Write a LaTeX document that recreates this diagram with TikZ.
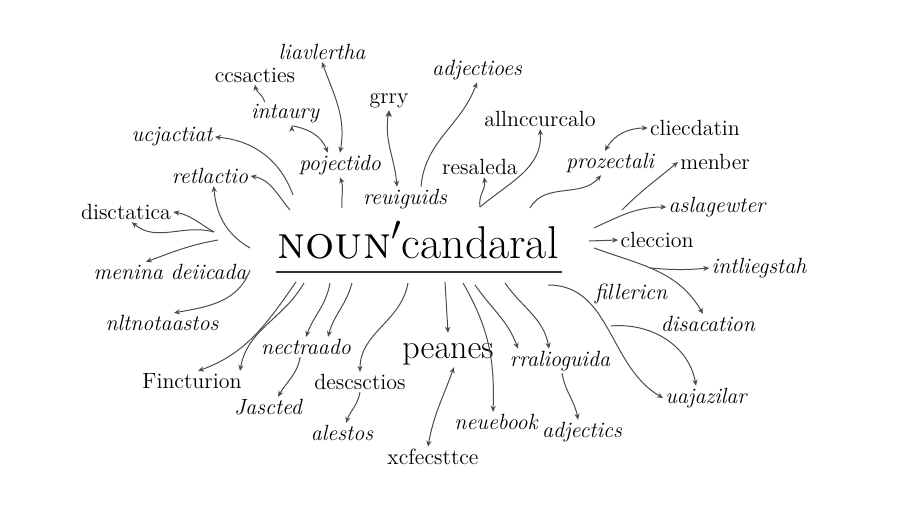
\documentclass[tikz,border=0pt]{standalone}
\usepackage{tikz}
\usetikzlibrary{arrows.meta}

\tikzset{
  lb/.style={font=\fontsize{11}{13}\selectfont, inner sep=1pt},
  il/.style={font=\fontsize{11}{13}\selectfont\itshape, inner sep=1pt},
  hd/.style={font=\fontsize{23}{28}\selectfont, inner sep=1pt},
  bg/.style={font=\fontsize{17}{20}\selectfont, inner sep=1pt},
  arr/.style={-{Stealth[length=3pt,width=2.6pt]}, draw=black!70, line width=0.5pt},
  darr/.style={{Stealth[length=3pt,width=2.6pt]}-{Stealth[length=3pt,width=2.6pt]}, draw=black!70, line width=0.5pt}
}

\begin{document}
\begin{tikzpicture}[x=0.5pt,y=0.5pt]
\useasboundingbox (0,0) rectangle (900,-506);

\node[hd] (title) at (418,-240) {\textsc{noun}$'$candaral};
\coordinate (ul-l) at (276,-272);
\coordinate (ul-r) at (562,-272);
\draw[line width=1pt, black!80] (ul-l) -- (ul-r);
\node[bg] (peanes) at (448,-354) {peanes};

\node[il] (liavlertha) at (322,-52) {liavlertha};
\node[lb] (ccsacties) at (255,-75) {ccsacties};
\node[il] (intaury) at (285,-114) {intaury};
\node[lb] (grry) at (389,-101) {grry};
\node[il] (adjectioes) at (477,-70) {adjectioes};
\node[lb] (allnccurcalo) at (540,-119) {allnccurcalo};
\node[il] (pojectido) at (340,-165) {pojectido};
\node[il] (reuiguids) at (405,-199) {reuiguids};
\node[lb] (resaleda) at (480,-167) {resaleda};
\node[il] (prozectali) at (610,-163) {prozectali};
\node[lb] (cliecdatin) at (695,-128) {cliecdatin};
\node[lb] (menber) at (715,-162) {menber};
\node[il] (aslagewter) at (717,-207) {aslagewter};
\node[lb] (cleccion) at (657,-240) {cleccion};
\node[il] (intliegstah) at (759,-268) {intliegstah};
\node[il] (fillericn) at (631,-294) {fillericn};
\node[il] (disacation) at (708,-324) {disacation};
\node[il] (uajazilar) at (706,-398) {uajazilar};
\node[il] (adjectics) at (582,-432) {adjectics};
\node[il] (rralioguida) at (560,-361) {rralioguida};
\node[il] (neuebook) at (496,-422) {neuebook};
\node[lb] (xcfecsttce) at (433,-457) {xcfecsttce};
\node[il] (alestos) at (342,-433) {alestos};
\node[lb] (descsctios) at (360,-382) {descsctios};
\node[il] (nectraado) at (306,-347) {nectraado};
\node[il] (jascted) at (268,-407) {Jascted};
\node[lb] (fincturion) at (192,-381) {Fincturion};
\node[il] (nltnotaastos) at (162,-323) {nltnotaastos};
\node[il] (menina) at (170,-272) {menina deiicada};
\node[lb] (disctatica) at (126,-212) {disctatica};
\node[il] (ucjactiat) at (172,-137) {ucjactiat};
\node[il] (retlactio) at (210,-176) {retlactio};

\coordinate (s-ucj) at (293,-195);
\coordinate (s-ret) at (290,-210);
\coordinate (s-ret2) at (250,-248);
\coordinate (s-dis) at (214,-232);
\coordinate (s-men) at (218,-240);
\coordinate (s-nlt) at (250,-270);
\coordinate (s-fi1) at (296,-282);
\coordinate (s-fi2) at (304,-283);
\coordinate (s-ne1) at (330,-283);
\coordinate (s-ne2) at (352,-283);
\coordinate (s-des) at (408,-283);
\coordinate (s-pea) at (445,-282);
\coordinate (s-neu) at (463,-283);
\coordinate (s-rr1) at (475,-285);
\coordinate (s-rr2) at (505,-283);
\coordinate (s-uaj) at (548,-285);
\coordinate (s-fil) at (611,-326);
\coordinate (s-dsc) at (594,-248);
\coordinate (s-int) at (650,-268);
\coordinate (s-cle) at (589,-241);
\coordinate (s-asl) at (594,-228);
\coordinate (s-men2) at (622,-210);
\coordinate (s-pro) at (530,-208);
\coordinate (s-all) at (480,-207);
\coordinate (s-poj) at (342,-208);

\path[arr]
(s-ucj) edge[out=110,in=-5] (ucjactiat.east)
(s-ret) edge[out=130,in=-10] (retlactio.east)
(s-ret2) edge[out=150,in=-85] (retlactio.-70)
(s-dis) edge[out=150,in=-10] (disctatica.east)
(s-dis) edge[out=165,in=-40] (disctatica.-60)
(s-men) edge[out=190,in=20] ([xshift=-12pt]menina.north)
(s-nlt) edge[out=-110,in=10] ([xshift=6pt]nltnotaastos.north)
(s-fi1) edge[out=-125,in=20] ([xshift=3pt]fincturion.north)
(s-fi2) edge[out=-120,in=80] ([xshift=24pt]fincturion.north)
(s-ne1) edge[out=-100,in=70] (nectraado.north)
(s-ne2) edge[out=-105,in=75] ([xshift=11pt]nectraado.north)
(nectraado.-120) edge[out=-100,in=60] ([xshift=5pt]jascted.north)
(s-des) edge[out=-100,in=90] (descsctios.north)
(descsctios.south) edge[out=-100,in=70] ([xshift=2pt]alestos.north)
(s-pea) edge ([yshift=4pt]peanes.north)
(s-neu) edge[out=-60,in=88] ([xshift=-1.5pt]neuebook.north)
(s-rr1) edge[out=-55,in=110] ([xshift=-21pt]rralioguida.north)
(s-rr2) edge[out=-55,in=100] ([xshift=-5.5pt]rralioguida.north)
([xshift=1pt]rralioguida.south) edge[out=-80,in=100] ([xshift=-2pt]adjectics.north)
(s-uaj) edge[out=0,in=150] (uajazilar.west)
(s-fil) edge[out=5,in=100] ([xshift=-5pt]uajazilar.north)
(s-dsc) edge[out=-20,in=120] ([xshift=-2.5pt]disacation.north)
(s-int) edge[out=-5,in=185] (intliegstah.west)
(s-cle) edge (cleccion.west)
(s-asl) edge[out=25,in=180] (aslagewter.west)
(s-men2) edge[out=45,in=-140] (menber.west)
(s-pro) edge[out=60,in=-130] ([xshift=-4.5pt]prozectali.south)
(s-all) edge[out=40,in=-85] (allnccurcalo.south)
(s-all) edge[out=100,in=-80] ([xshift=2pt]resaleda.south)
([xshift=8pt]reuiguids.north) edge[out=85,in=-110] (adjectioes.south)
(s-poj) edge[out=95,in=-70] (pojectido.south)
(intaury.150) edge[out=100,in=-80] (ccsacties.south)
(intaury.-60) edge[out=-10,in=110] (pojectido.135)
;
\path[darr]
(pojectido.north) edge[out=80,in=-70] (liavlertha.south)
([xshift=3pt]peanes.south) edge[out=-110,in=80] ([xshift=-2.5pt]xcfecsttce.north)
([xshift=-2.5pt]prozectali.north) edge[out=60,in=180] (cliecdatin.west)
(grry.south) edge[out=-100,in=95] ([xshift=-4pt]reuiguids.north)
;
\end{tikzpicture}
\end{document}
